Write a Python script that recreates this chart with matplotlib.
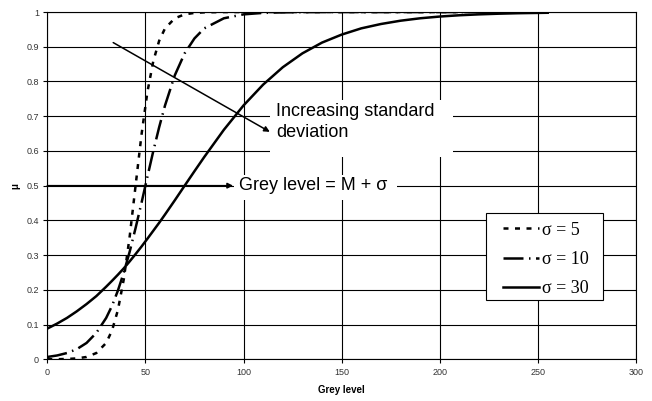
import matplotlib
matplotlib.use('Agg')
import matplotlib.pyplot as plt
from matplotlib.patches import Rectangle

# values
grey = [0, 5, 10, 15, 20, 25, 30, 33, 36, 39, 42, 45, 48, 51, 54, 57, 60, 65, 70, 75,
        80, 90, 100, 110, 120, 130, 140, 150, 160, 170, 180, 190, 200, 210, 220, 230, 240, 255]
mu_s5 = [0.0001, 0.0003, 0.0009, 0.0025, 0.0067, 0.018, 0.047, 0.083, 0.142, 0.231, 0.354,
         0.5, 0.646, 0.769, 0.858, 0.917, 0.953, 0.982, 0.9933, 0.9975, 0.9991, 0.9999,
         1.0, 1.0, 1.0, 1.0, 1.0, 1.0, 1.0, 1.0, 1.0, 1.0, 1.0, 1.0, 1.0, 1.0, 1.0, 1.0]
mu_s10 = [0.0067, 0.011, 0.018, 0.029, 0.047, 0.076, 0.119, 0.154, 0.198, 0.25, 0.31,
          0.378, 0.45, 0.525, 0.599, 0.668, 0.731, 0.818, 0.881, 0.924, 0.953, 0.982,
          0.9933, 0.9975, 0.9991, 0.9997, 0.9999, 1.0, 1.0, 1.0, 1.0, 1.0, 1.0, 1.0, 1.0,
          1.0, 1.0, 1.0]
mu_s30 = [0.0884, 0.1028, 0.119, 0.138, 0.159, 0.182, 0.209, 0.226, 0.2436, 0.262, 0.282,
          0.303, 0.3245, 0.347, 0.37, 0.393, 0.417, 0.458, 0.5, 0.5416, 0.5826, 0.661,
          0.731, 0.791, 0.841, 0.881, 0.912, 0.935, 0.953, 0.9655, 0.975, 0.982, 0.987,
          0.9907, 0.9933, 0.9952, 0.9966, 0.9979]
labels = ['\u03c3 = 5', '\u03c3 = 10', '\u03c3 = 30']
x_ticks = [0, 50, 100, 150, 200, 250, 300]
y_ticks = [0, 0.1, 0.2, 0.3, 0.4, 0.5, 0.6, 0.7, 0.8, 0.9, 1]
y_tick_labels = ['0', '0.1', '0.2', '0.3', '0.4', '0.5', '0.6', '0.7', '0.8', '0.9', '1']

plt.rcParams['font.family'] = ['Liberation Sans', 'DejaVu Sans']

fig = plt.figure(figsize=(6.52, 4.01), dpi=100)
ax = fig.add_axes([0.0725, 0.104, 0.903, 0.866])

lw = 1.8
ax.plot(grey, mu_s5, color='black', lw=lw, dashes=(2.0, 2.6), label=labels[0], zorder=4)
ax.plot(grey, mu_s10, color='black', lw=lw, dashes=(8.0, 2.2, 0.6, 2.2), label=labels[1], zorder=4)
ax.plot(grey, mu_s30, color='black', lw=lw, label=labels[2], zorder=4)

ax.set_xlim(0, 300)
ax.set_ylim(0, 1)
ax.set_xticks(x_ticks)
ax.set_yticks(y_ticks)
ax.set_yticklabels(y_tick_labels)
ax.grid(True, color='black', lw=0.8, zorder=1)
ax.set_axisbelow(True)
for s in ax.spines.values():
    s.set_color('black')
    s.set_linewidth(0.8)
ax.tick_params(labelsize=6.5, length=3, width=0.8, colors='black', labelcolor='#333333', pad=3)

ax.set_xlabel('Grey level', fontsize=7, fontweight='bold', labelpad=6)
ax.set_ylabel('\u03bc', fontsize=7, fontweight='bold', labelpad=4)

# white text boxes hiding the grid
ax.add_patch(Rectangle((113.4, 0.5825), 93.2, 0.1641, facecolor='white', edgecolor='none', zorder=2))
ax.add_patch(Rectangle((95.2, 0.4587), 82.9, 0.072, facecolor='white', edgecolor='none', zorder=2))

ax.text(116.6, 0.738, 'Increasing standard\ndeviation', fontsize=13, va='top', ha='left',
        linespacing=1.3, zorder=5)
ax.text(97.5, 0.5, 'Grey level = M + \u03c3', fontsize=13, va='center', ha='left', zorder=5)

arrow = dict(arrowstyle='-|>', color='black', lw=1.1, mutation_scale=8, shrinkA=0, shrinkB=0)
ax.annotate('', xy=(113.4, 0.655), xytext=(33.6, 0.912), arrowprops=arrow, zorder=5)
ax.annotate('', xy=(94.7, 0.5), xytext=(0, 0.5), arrowprops=arrow, zorder=5)

# legend frame drawn separately so it can be wider than the entries
ax.add_patch(Rectangle((0.746, 0.171), 0.198, 0.249, transform=ax.transAxes,
                       facecolor='white', edgecolor='black', lw=0.8, zorder=5.5))
leg = ax.legend(loc='upper left', bbox_to_anchor=(0.7605, 0.42), frameon=False,
                handlelength=2.0, handletextpad=0.15,
                borderpad=0.45, labelspacing=0.68, borderaxespad=0,
                prop={'family': 'Liberation Serif', 'size': 13})
leg.set_zorder(6)

fig.savefig('out.png', dpi=100)
